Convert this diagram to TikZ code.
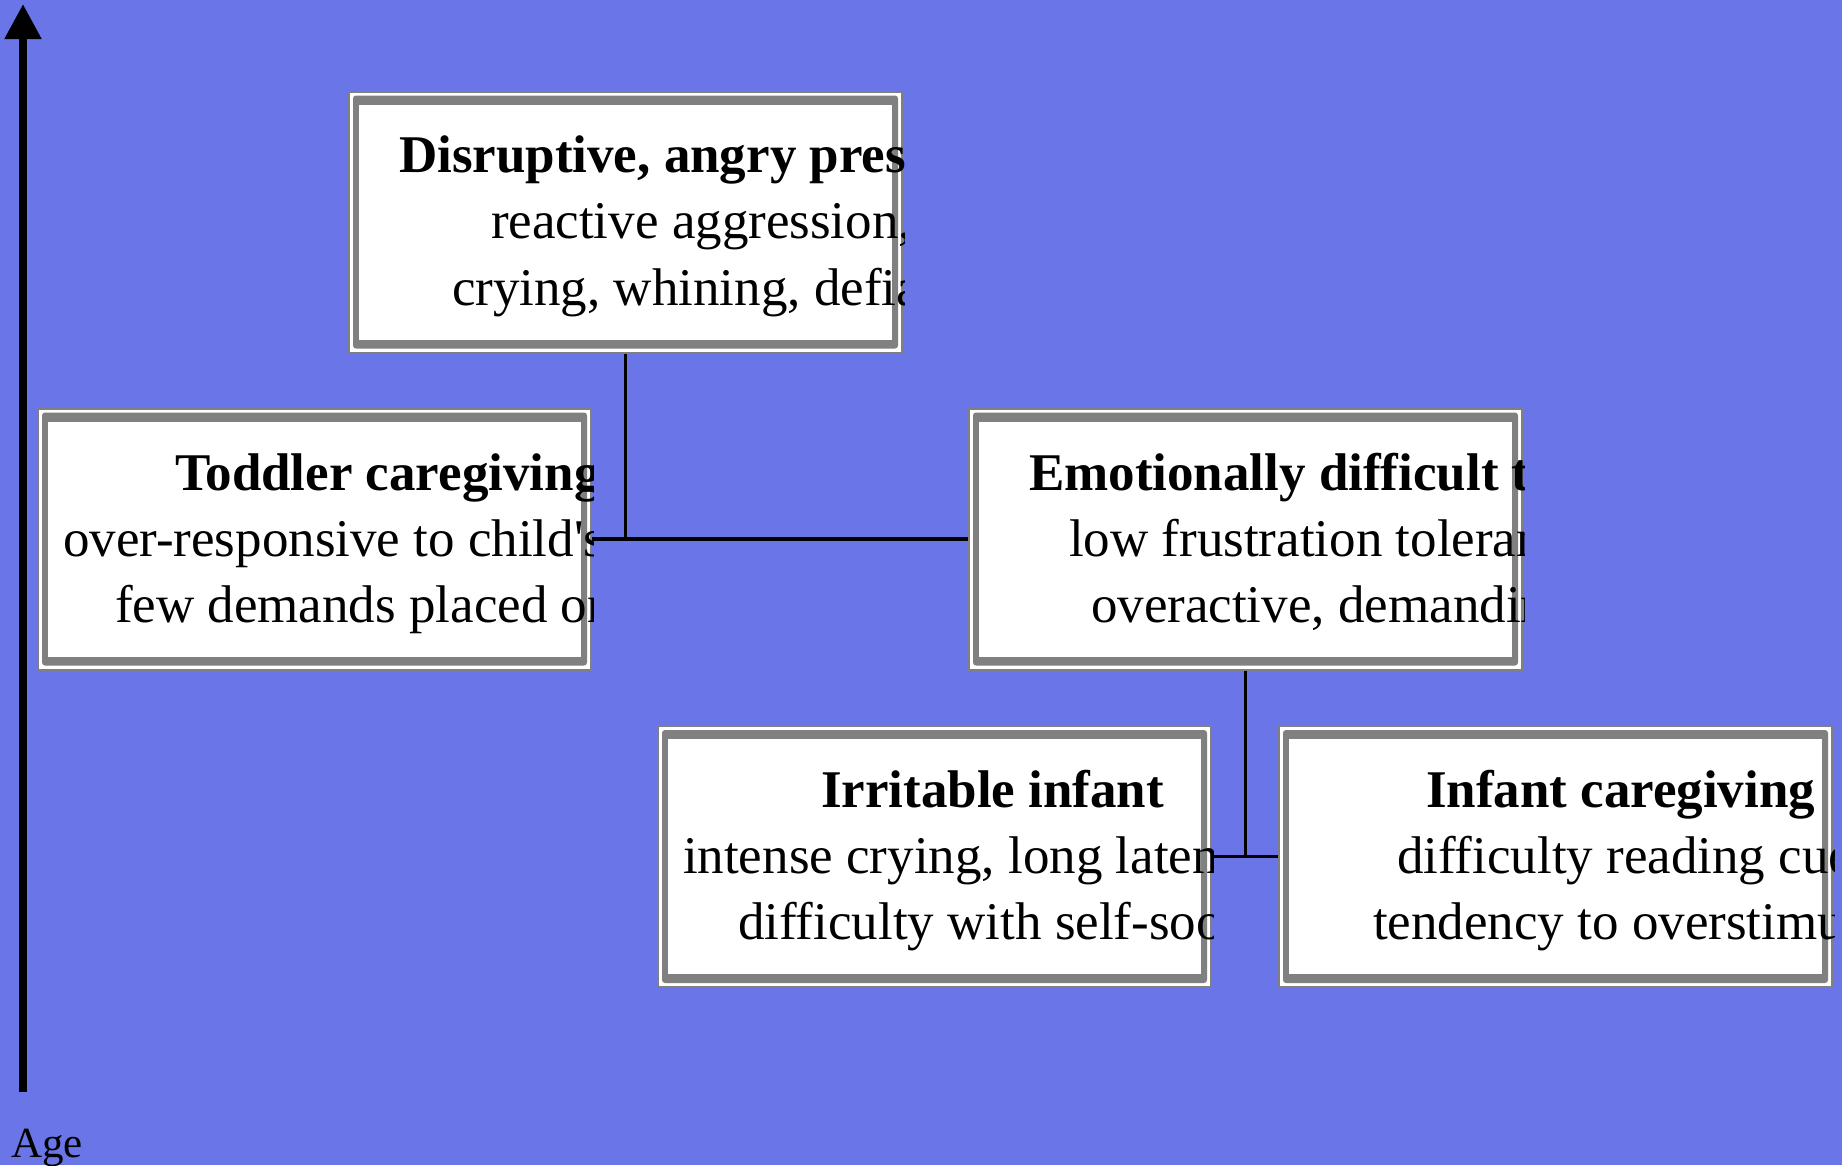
\documentclass[tikz,border=0pt]{standalone}
\usepackage{fontspec}
\setmainfont{Liberation Serif}
\usetikzlibrary{arrows.meta}
\definecolor{bgblue}{RGB}{106,118,232}
\definecolor{bandgray}{RGB}{128,128,128}
\tikzset{
  boxouter/.style={draw=bandgray, line width=2pt, fill=white, inner sep=0pt,
    minimum width=553pt, minimum height=261pt, rectangle},
  tline/.style={anchor=base west, inner sep=0pt, outer sep=0pt,
    font=\fontsize{53pt}{66pt}\selectfont, text=black},
  ttitle/.style={tline, font=\fontsize{53pt}{66pt}\selectfont\bfseries},
  conn/.style={draw=black, line width=3.5pt},
  axis/.style={draw=black, line width=8pt, -{Triangle[length=35pt,width=35pt]}},
  agelabel/.style={anchor=base west, inner sep=0pt, font=\fontsize{43pt}{50pt}\selectfont}
}
\newcommand{\drawband}[1]{%
  \fill[bandgray, rounded corners=3pt] ([shift={(5,5)}]#1.north west) rectangle ([shift={(-5,-5)}]#1.south east);
  \fill[white] ([shift={(11,14)}]#1.north west) rectangle ([shift={(-11,-14)}]#1.south east);
}
\begin{document}
\begin{tikzpicture}[x=1pt, y=-1pt]
  \useasboundingbox (0,0) rectangle (1842,1165);
  \fill[bgblue] (0,0) rectangle (1842,1165);

  % boxes
  \node[boxouter] (b1) at (625.5,222) {};
  \node[boxouter] (b2) at (314.5,539) {};
  \node[boxouter] (b3) at (1245.5,539) {};
  \node[boxouter] (b4) at (934.5,856.5) {};
  \node[boxouter] (b5) at (1555.5,856.5) {};
  \drawband{b1}
  \drawband{b2}
  \drawband{b3}
  \drawband{b4}
  \drawband{b5}

  % texts
  \begin{scope}
    \clip ([shift={(-1,-1)}]b1.north west) rectangle ([shift={(1,1)}]b1.south east);
    \node[ttitle] (b1a) at (399,172) {Disruptive, angry pres};
    \node[tline] (b1b) at (491,238.5) {reactive aggression,};
    \node[tline] (b1c) at (452,305) {crying, whining, defia};
  \end{scope}
  \begin{scope}
    \clip ([shift={(-1,-1)}]b2.north west) rectangle ([shift={(1,1)}]b2.south east);
    \node[ttitle] (b2a) at (175,490) {Toddler caregiving};
    \node[tline] (b2b) at (63,556) {over-responsive to child\textquotesingle s};
    \node[tline] (b2c) at (115,622) {few demands placed on};
  \end{scope}
  \begin{scope}
    \clip ([shift={(-1,-1)}]b3.north west) rectangle ([shift={(1,1)}]b3.south east);
    \node[ttitle] (b3a) at (1029,490) {Emotionally difficult t};
    \node[tline] (b3b) at (1069,556) {low frustration toleran};
    \node[tline] (b3c) at (1091,622) {overactive, demandin};
  \end{scope}
  \begin{scope}
    \clip ([shift={(-1,-1)}]b4.north west) rectangle ([shift={(1,1)}]b4.south east);
    \node[ttitle] (b4a) at (821,807) {Irritable infant};
    \node[tline] (b4b) at (683,873) {intense crying, long laten};
    \node[tline] (b4c) at (738,939) {difficulty with self-soo};
  \end{scope}
  \begin{scope}
    \clip ([shift={(-1,-1)}]b5.north west) rectangle ([shift={(1,1)}]b5.south east);
    \node[ttitle] (b5a) at (1426,807) {Infant caregiving};
    \node[tline] (b5b) at (1397,873) {difficulty reading cue};
    \node[tline] (b5c) at (1373,939) {tendency to overstimul};
  \end{scope}

  % connectors
  \draw[conn] (b2.east) -- (b3.west);
  \draw[conn] (b1.south) -- (b1.south |- b2.east);
  \draw[conn] (b4.east) -- (b5.west);
  \draw[conn] (b3.south) -- (b3.south |- b4.east);

  % age axis
  \coordinate (axbot) at (23,1092);
  \coordinate (axtop) at (23,4);
  \draw[axis] (axbot) -- (axtop);
  \node[agelabel] (age) at (11,1157) {Age};
\end{tikzpicture}
\end{document}
